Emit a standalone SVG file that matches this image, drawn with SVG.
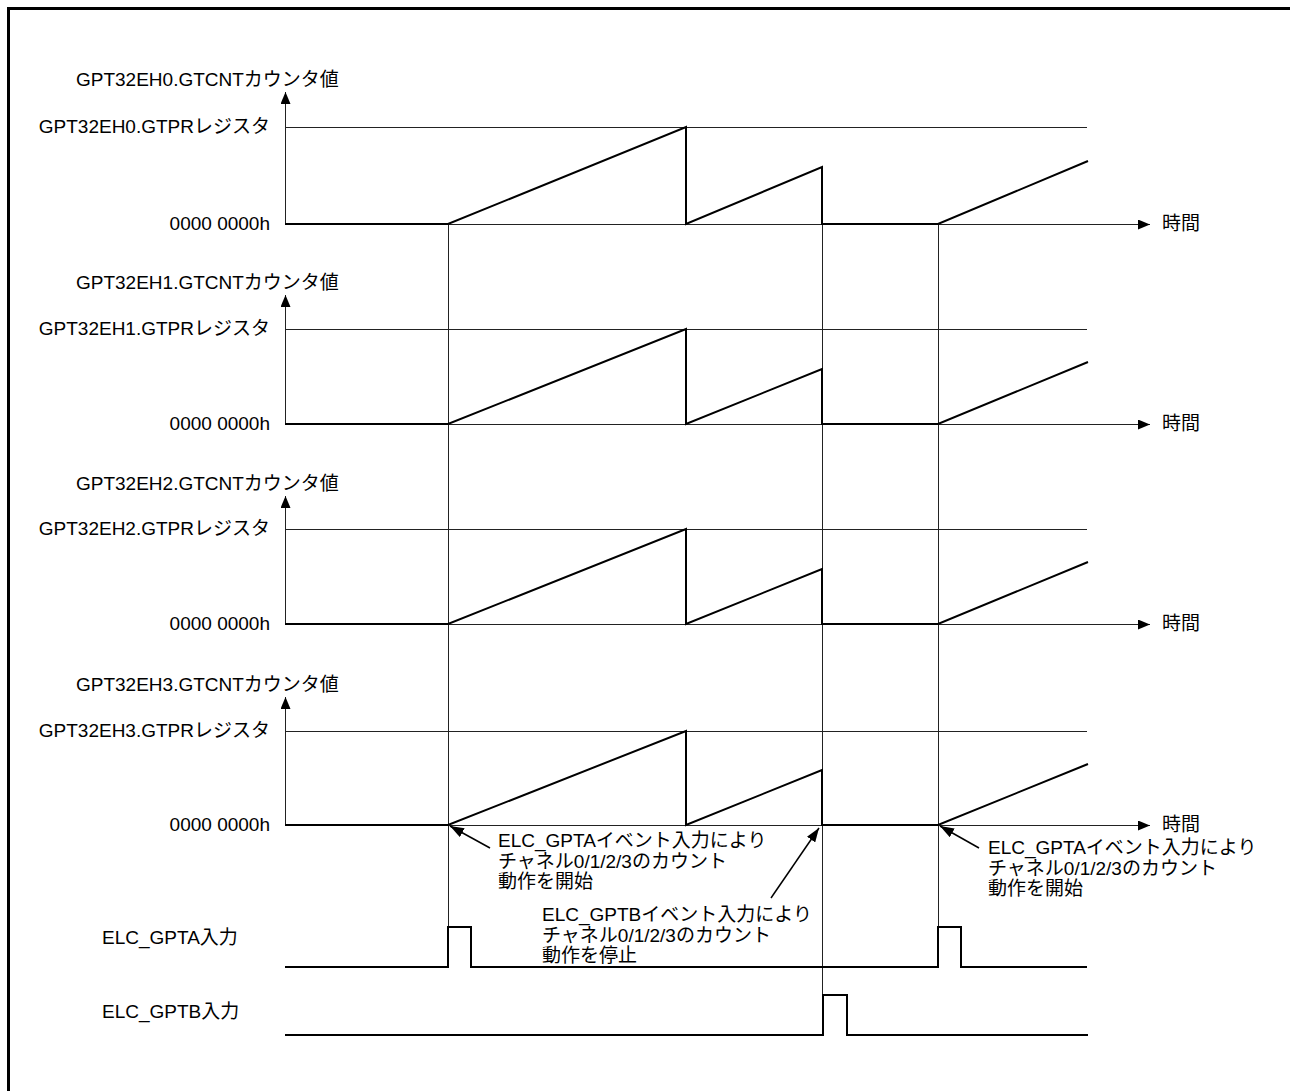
<svg xmlns="http://www.w3.org/2000/svg" width="1290" height="1091" viewBox="0 0 1290 1091">
<style>
text{font-family:"Liberation Sans","Noto Sans CJK JP",sans-serif;font-size:19px;fill:#000}
.end{text-anchor:end}
.thin{fill:none;stroke:#222;stroke-width:1}
.sig{fill:none;stroke:#000;stroke-width:2;stroke-linejoin:miter}
.ann{fill:none;stroke:#000;stroke-width:1.5}
</style>
<defs>
<marker id="ah" viewBox="0 0 12 10" refX="12" refY="5" markerWidth="12" markerHeight="10" markerUnits="userSpaceOnUse" orient="auto"><path d="M0,0 L12,5 L0,10 Z" fill="#000"/></marker>
<marker id="ah2" viewBox="0 0 14 10" refX="14" refY="5" markerWidth="14" markerHeight="10" markerUnits="userSpaceOnUse" orient="auto"><path d="M0,0 L14,5 L0,10 Z" fill="#000"/></marker>
</defs>
<rect width="1290" height="1091" fill="#fff"/>
<path d="M8.5,1091 V8.5 H1290" fill="none" stroke="#000" stroke-width="3"/>

<g id="guides">
<path class="thin" d="M448.5,224 V927 M822.5,224 V995 M938.5,224 V927"/>
</g>

<g id="panel0">
<text x="76" y="86">GPT32EH0.GTCNTカウンタ値</text>
<text class="end" x="270" y="133">GPT32EH0.GTPRレジスタ</text>
<text class="end" x="270" y="230">0000 0000h</text>
<text x="1162" y="230">時間</text>
<path class="thin" d="M285.5,224 V92" marker-end="url(#ah)"/>
<path class="thin" d="M285,224.5 H1150" marker-end="url(#ah)"/>
<path class="thin" d="M285,127.5 H1087"/>
<path class="sig" d="M285,224 H448 L686,127 V224 L822,167 V224 H938 L1088,161"/>
</g>

<g id="panel1">
<text x="76" y="289">GPT32EH1.GTCNTカウンタ値</text>
<text class="end" x="270" y="335">GPT32EH1.GTPRレジスタ</text>
<text class="end" x="270" y="430">0000 0000h</text>
<text x="1162" y="430">時間</text>
<path class="thin" d="M285.5,424 V295" marker-end="url(#ah)"/>
<path class="thin" d="M285,424.5 H1150" marker-end="url(#ah)"/>
<path class="thin" d="M285,329.5 H1087"/>
<path class="sig" d="M285,424 H448 L686,329 V424 L822,369 V424 H938 L1088,362"/>
</g>

<g id="panel2">
<text x="76" y="490">GPT32EH2.GTCNTカウンタ値</text>
<text class="end" x="270" y="535">GPT32EH2.GTPRレジスタ</text>
<text class="end" x="270" y="630">0000 0000h</text>
<text x="1162" y="630">時間</text>
<path class="thin" d="M285.5,624 V496" marker-end="url(#ah)"/>
<path class="thin" d="M285,624.5 H1150" marker-end="url(#ah)"/>
<path class="thin" d="M285,529.5 H1087"/>
<path class="sig" d="M285,624 H448 L686,529 V624 L822,569 V624 H938 L1088,562"/>
</g>

<g id="panel3">
<text x="76" y="691">GPT32EH3.GTCNTカウンタ値</text>
<text class="end" x="270" y="737">GPT32EH3.GTPRレジスタ</text>
<text class="end" x="270" y="831">0000 0000h</text>
<text x="1162" y="831">時間</text>
<path class="thin" d="M285.5,825 V697" marker-end="url(#ah)"/>
<path class="thin" d="M285,825.5 H1150" marker-end="url(#ah)"/>
<path class="thin" d="M285,731.5 H1087"/>
<path class="sig" d="M285,825 H448 L686,731 V825 L822,770 V825 H938 L1088,764"/>
</g>

<g id="elc_gpta">
<text x="102" y="944">ELC_GPTA入力</text>
<path class="sig" d="M285,967 H448 V927 H471 V967 H938 V927 H961 V967 H1087"/>
</g>

<g id="elc_gptb">
<text x="102" y="1018">ELC_GPTB入力</text>
<path class="sig" d="M285,1035 H823 V995 H847 V1035 H1088"/>
</g>

<g id="note_start1">
<text x="498" y="847">ELC_GPTAイベント入力により</text>
<text x="498" y="868">チャネル0/1/2/3のカウント</text>
<text x="498" y="888">動作を開始</text>
</g>
<g id="note_stop">
<text x="542" y="921">ELC_GPTBイベント入力により</text>
<text x="542" y="942">チャネル0/1/2/3のカウント</text>
<text x="542" y="962">動作を停止</text>
</g>
<g id="note_start2">
<text x="988" y="854">ELC_GPTAイベント入力により</text>
<text x="988" y="875">チャネル0/1/2/3のカウント</text>
<text x="988" y="895">動作を開始</text>
</g>

<g id="connectors">
<path class="ann" d="M490,848 L450,826" marker-end="url(#ah2)"/>
<path class="ann" d="M771,898 L819,828" marker-end="url(#ah2)"/>
<path class="ann" d="M979,848 L940,826" marker-end="url(#ah2)"/>
</g>
</svg>
